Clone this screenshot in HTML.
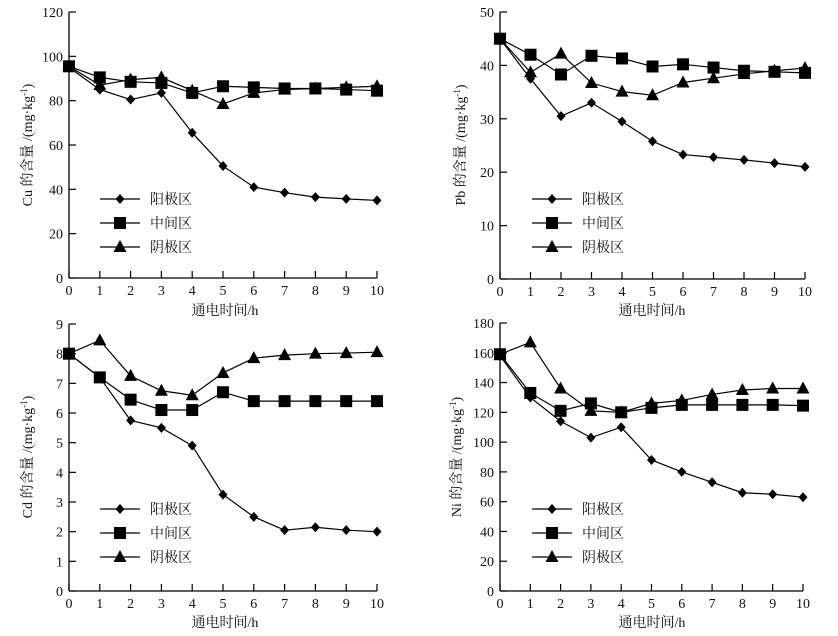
<!DOCTYPE html>
<html><head><meta charset="utf-8">
<style>
html,body{margin:0;padding:0;background:#fff;}
svg{display:block;}
text{font-family:"Liberation Serif","Noto Serif CJK SC",serif;fill:#111;}
</style></head>
<body>
<svg id="s" width="838" height="636" xmlns="http://www.w3.org/2000/svg">
<text x="225" y="315" font-size="14" text-anchor="middle">通电时间/h</text>
<text x="652" y="315" font-size="14" text-anchor="middle">通电时间/h</text>
<text x="225" y="627" font-size="14" text-anchor="middle">通电时间/h</text>
<text x="652" y="627" font-size="14" text-anchor="middle">通电时间/h</text>
<text transform="translate(32,145) rotate(-90)" font-size="14" text-anchor="middle">Cu 的含量 /(mg·kg<tspan dy="-5" font-size="9">-1</tspan><tspan dy="5">)</tspan></text>
<text transform="translate(465,145) rotate(-90)" font-size="14" text-anchor="middle">Pb 的含量 /(mg·kg<tspan dy="-5" font-size="9">-1</tspan><tspan dy="5">)</tspan></text>
<text transform="translate(32,457) rotate(-90)" font-size="14" text-anchor="middle">Cd 的含量 /(mg·kg<tspan dy="-5" font-size="9">-1</tspan><tspan dy="5">)</tspan></text>
<text transform="translate(461,457) rotate(-90)" font-size="14" text-anchor="middle">Ni 的含量 /(mg·kg<tspan dy="-5" font-size="9">-1</tspan><tspan dy="5">)</tspan></text>
</svg>
<script>
var NS="http://www.w3.org/2000/svg",S=document.getElementById("s");
function el(t,a){var e=document.createElementNS(NS,t);for(var k in a)e.setAttribute(k,a[k]);S.appendChild(e);return e;}
function txt(x,y,s,anch,fs){var e=el("text",{x:x,y:y,"font-size":fs||14,"text-anchor":anch});e.textContent=s;}
function marker(type,x,y){
 if(type==0)el("polygon",{points:(x)+","+(y-5)+" "+(x+4.5)+","+y+" "+x+","+(y+5)+" "+(x-4.5)+","+y,fill:"#000"});
 else if(type==1)el("rect",{x:x-6,y:y-6,width:12,height:12,fill:"#000"});
 else el("polygon",{points:x+","+(y-7)+" "+(x+6.5)+","+(y+5)+" "+(x-6.5)+","+(y+5),fill:"#000"});
}
function chart(c){
 var X0=c.x0,X1=c.x1,Y0=c.y0,Y1=c.y1;
 function px(i){return X0+(X1-X0)*i/10;}
 function py(v){return Y0-(Y0-Y1)*v/c.max;}
 el("line",{x1:X0,y1:Y0,x2:X0,y2:Y1,stroke:"#000","stroke-width":1.3});
 el("line",{x1:X0,y1:Y0,x2:X1,y2:Y0,stroke:"#000","stroke-width":1.3});
 for(var i=0;i<=10;i++){el("line",{x1:px(i),y1:Y0,x2:px(i),y2:Y0-7,stroke:"#000","stroke-width":1.2});txt(px(i),Y0+17,String(i),"middle");}
 for(var v=0;v<=c.max;v+=c.step){var y=py(v);el("line",{x1:X0,y1:y,x2:X0+7,y2:y,stroke:"#000","stroke-width":1.2});txt(X0-6,y+5,String(v),"end");}
 c.d.forEach(function(s,k){
  var p=s.map(function(v,i){return px(i)+","+py(v);}).join(" ");
  el("polyline",{points:p,fill:"none",stroke:"#000","stroke-width":1.2});
  s.forEach(function(v,i){marker(k,px(i),py(v));});
 });
 var names=["阳极区","中间区","阴极区"];
 for(var k=0;k<3;k++){var ly=c.ly+k*24;el("line",{x1:c.lx,y1:ly,x2:c.lx+40,y2:ly,stroke:"#000","stroke-width":1.2});marker(k,c.lx+20,ly);
  var t=el("text",{x:c.lx+50,y:ly+5,"font-size":14});t.textContent=names[k];}
}
chart({x0:69,x1:377,y0:278,y1:12,max:120,step:20,lx:100,ly:199,d:[
[95,85,80.5,83.5,65.5,50.5,41,38.5,36.5,35.7,35],
[95.5,90.5,88.5,88,83.5,86.5,86,85.5,85.5,85,84.5],
[95.5,87,89.5,90.5,84.5,78.5,83.5,85,85.5,86,86.5]]});
chart({x0:500,x1:805,y0:279,y1:12,max:50,step:10,lx:532,ly:199,d:[
[45,37.5,30.5,33,29.5,25.8,23.3,22.8,22.3,21.7,21],
[45,42,38.3,41.8,41.3,39.8,40.2,39.6,39,38.8,38.6],
[45,38.7,42.2,36.7,35.1,34.4,36.8,37.6,38.4,39,39.5]]});
chart({x0:69,x1:377,y0:591,y1:324,max:9,step:1,lx:100,ly:509,d:[
[8,7.2,5.75,5.5,4.9,3.25,2.5,2.05,2.15,2.05,2],
[8,7.2,6.45,6.1,6.1,6.7,6.4,6.4,6.4,6.4,6.4],
[8,8.45,7.25,6.75,6.6,7.35,7.85,7.95,8,8.02,8.05]]});
chart({x0:500,x1:803,y0:591,y1:323,max:180,step:20,lx:532,ly:509,d:[
[158,130,114,103,110,88,80,73,66,65,63],
[159,133,121,126,120,123,125,125,125,125,124.5],
[159,167,136,121,120,126,128,132,135,136,136]]});
</script>
</body></html>
